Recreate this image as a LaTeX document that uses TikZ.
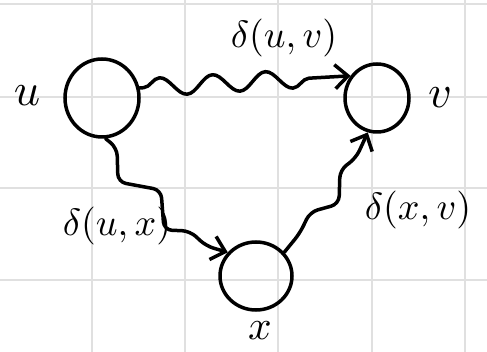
\documentclass[tikz,border=0pt]{standalone}
\usetikzlibrary{shapes.geometric,decorations.pathmorphing,arrows.meta}
\begin{document}
\begin{tikzpicture}[x=1pt,y=-1pt,
  gridline/.style={draw=black!12,line width=1.4pt},
  vertex/.style={ellipse,draw=black,line width=3.5pt,inner sep=0pt},
  vlbl/.style={scale=4.6,inner sep=0pt},
  elbl/.style={scale=3.8,inner sep=0pt},
  edge/.style={line width=3.5pt,line cap=round,line join=round,-{Straight Barb[length=13pt,width=24pt,line width=3.5pt]}},
  wavy/.style={decorate,decoration={snake,segment length=53pt,amplitude=9pt,post length=18pt,pre length=4pt}}]
\useasboundingbox (0,0) rectangle (487,352);
\fill[white] (0,0) rectangle (487,352);
% grid
\foreach \gx in {92,185,278,372,465} \draw[gridline] (\gx,0) -- (\gx,352);
\foreach \gy in {4,97,188,280} \draw[gridline] (0,\gy) -- (487,\gy);
% vertices
\node[vertex,minimum width=74pt,minimum height=78pt] (u) at (102,98) {};
\node[vertex,minimum width=64pt,minimum height=68pt] (v) at (377,98) {};
\node[vertex,minimum width=72pt,minimum height=68pt] (x) at (256,276) {};
% vertex labels
\node[vlbl] (lu) at (27,96) {$u$};
\node[vlbl] (lv) at (440,98) {$v$};
\node[vlbl,scale=0.9] (lx) at (260,331) {$x$};
% edges
\draw[edge,wavy] (u.15) -- (v.140);
\draw[edge,rounded corners=8pt] (u.-85) -- (117,148) -- (118,182) -- (161,190) -- (164,230) -- (190,231) -- (206,246) -- (x.140);
\draw[edge,rounded corners=8pt] (x.40) -- (300,233) -- (310,212) -- (339,204) -- (340,170) -- (356,158) -- (v.255);
% edge labels
\node[elbl] (luv) at (284,38) {$\delta(u,v)$};
\node[elbl] (lux) at (117,226) {$\delta(u,x)$};
\node[elbl] (lxv) at (418,210) {$\delta(x,v)$};
\end{tikzpicture}
\end{document}
